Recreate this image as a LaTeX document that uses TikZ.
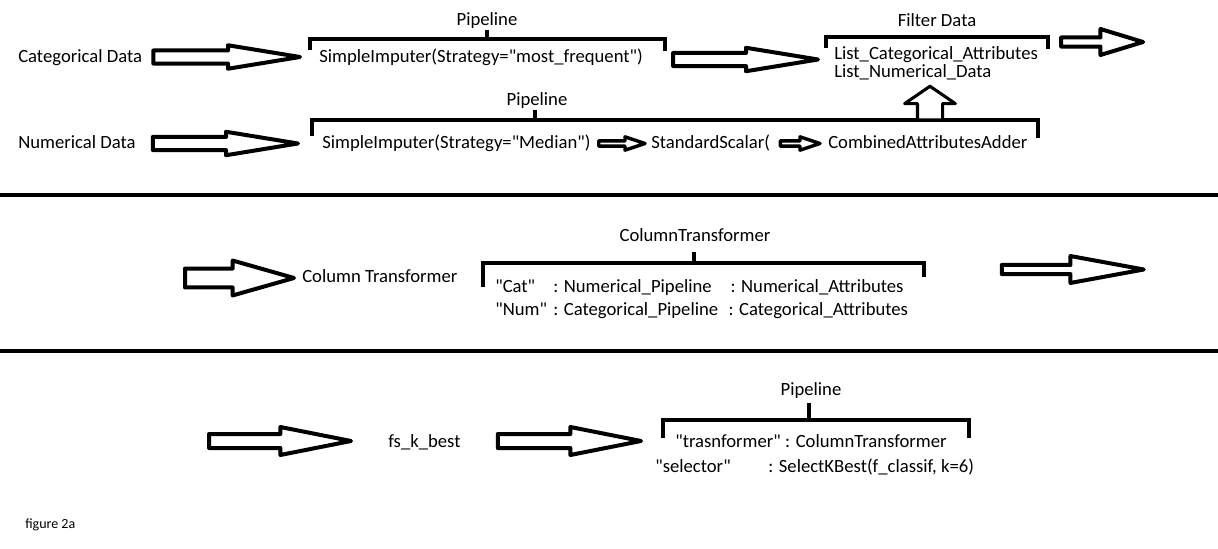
\documentclass[tikz,border=0pt]{standalone}
\usepackage{fontspec}
\setmainfont{Carlito}[Ligatures=TeXOff]
\usetikzlibrary{calc}

% hollow block arrow: shaft half width, head half width, head length
\tikzset{
	barrow/.style n args={3}{draw, fill=white, line join=round,
		to path={($(\tikztostart)!#1!90:(\tikztotarget)$)
			-- ($(\tikztotarget)!#3!(\tikztostart)!#1!90:(\tikztotarget)$)
			-- ($(\tikztotarget)!#3!(\tikztostart)!#2!90:(\tikztotarget)$)
			-- (\tikztotarget)
			-- ($(\tikztotarget)!#3!(\tikztostart)!#2!-90:(\tikztotarget)$)
			-- ($(\tikztotarget)!#3!(\tikztostart)!#1!-90:(\tikztotarget)$)
			-- ($(\tikztostart)!#1!-90:(\tikztotarget)$)
			-- cycle}},
}

\begin{document}
\begin{tikzpicture}
[
	x=0.75pt,
	y=-0.75pt,
	lbl/.style={inner sep=0pt, text height=11pt, text depth=2.5pt, font=\fontsize{14}{16}\selectfont},
	txt/.style={lbl, anchor=west},
	brk/.style={line width=3.4pt},
	tick/.style={line width=2.4pt},
	sep/.style={line width=3.4pt},
	bigarrow/.style={barrow={4.9pt}{8.8pt}{54pt}, line width=3pt},
	lowarrow/.style={barrow={5.25pt}{10.5pt}{53pt}, line width=3pt},
	widearrow/.style={barrow={7.1pt}{13.1pt}{46pt}, line width=3pt},
	slimarrow/.style={barrow={3.4pt}{10.1pt}{55pt}, line width=3pt},
	outarrow/.style={barrow={3.4pt}{9.75pt}{32pt}, line width=3pt},
	smallarrow/.style={barrow={2pt}{5pt}{15pt}, line width=2.6pt},
	uparrow/.style={barrow={9.4pt}{19pt}{13pt}, line width=2.3pt}
]
	\useasboundingbox (0,0) rectangle (1218,549);

	% categorical data
	\node[txt] (catdata) at (18,57) {Categorical Data};
	\node[txt] (catimp) at (319,57) {SimpleImputer(Strategy="most\_frequent")};
	\node[lbl] (catpipe) at (487,20) {Pipeline};
	\node[txt] (catlist) at (834,54) {List\_Categorical\_Attributes};
	\node[txt] (numlist) at (834,72) {List\_Numerical\_Data};
	\node[lbl] (filter) at (937,21) {Filter Data};

	% numerical data
	\node[txt] (numdata) at (18,143) {Numerical Data};
	\node[txt] (numimp) at (322,143) {SimpleImputer(Strategy="Median")};
	\node[txt] (scaler) at (651,143) {StandardScalar(};
	\node[txt] (adder) at (828,143) {CombinedAttributesAdder};
	\node[lbl] (numpipe) at (537,100) {Pipeline};

	% brackets
	\draw[brk] (310,50) |- (665,39) -- (665,51);
	\draw[tick] (487,39) -- (487,30);
	\draw[brk] (826,48) |- (1048,37) -- (1048,49);
	\draw[brk] (312,136) |- (1038,120) -- (1038,138);
	\draw[tick] (535,120) -- (535,110);

	% arrows
	\coordinate (catin) at ($(catdata.east)+(11,0)$);
	\coordinate (catimpin) at ($(catimp.west)+(-19,0)$);
	\coordinate (catimpout) at ($(catimp.east)+(30,2.5)$);
	\coordinate (listin) at ($(catlist.west)+(-16,5.5)$);
	\coordinate (listout) at ($(catlist.east)+(23,-12)$);
	\coordinate (topend) at ($(catlist.east)+(105,-12)$);
	\coordinate (numin) at ($(numdata.east)+(17,0.5)$);
	\coordinate (numimpin) at ($(numimp.west)+(-24,0.5)$);
	\coordinate (numimpout) at ($(numimp.east)+(8,0.5)$);
	\coordinate (scalerin) at ($(scaler.west)+(-6,0.5)$);
	\coordinate (scalerout) at ($(scaler.east)+(10,0.5)$);
	\coordinate (adderin) at ($(adder.west)+(-8,0.5)$);
	\coordinate (upfoot) at (930,120);
	\coordinate (uptip) at ($(numlist.south -| upfoot)+(0,5)$);

	\draw[bigarrow] (catin) to (catimpin);
	\draw[bigarrow] (catimpout) to (listin);
	\draw[outarrow] (listout) to (topend);
	\draw[bigarrow] (numin) to (numimpin);
	\draw[smallarrow] (numimpout) to (scalerin);
	\draw[smallarrow] (scalerout) to (adderin);
	\draw[uparrow] (upfoot) to (uptip);

	\draw[sep] (0,195) -- (1218,195);

	% column transformer
	\node[txt] (coltr) at (302,277) {Column Transformer};
	\node[lbl] (ctlabel) at (695,236) {ColumnTransformer};
	\node[txt] (catrow) at (495,287) {\makebox[43.5pt][l]{"Cat"}: \makebox[125pt][l]{Numerical\_Pipeline}: Numerical\_Attributes};
	\node[txt] (numrow) at (495,310) {\makebox[43.5pt][l]{"Num"}: \makebox[123.5pt][l]{Categorical\_Pipeline}: Categorical\_Attributes};
	\draw[brk] (483,287) |- (924,263) -- (924,277);
	\draw[tick] (694,263) -- (694,252);

	\coordinate (ctin) at ($(coltr.west)+(-117,1)$);
	\coordinate (ctinend) at ($(coltr.west)+(-8,1)$);
	\coordinate (ctout) at ($(catrow.east)+(98,-17.5)$);
	\coordinate (ctend) at ($(catrow.east)+(240,-17.5)$);
	\draw[widearrow] (ctin) to (ctinend);
	\draw[slimarrow] (ctout) to (ctend);

	\draw[sep] (0,351) -- (1218,351);

	% feature selection
	\node[txt] (fskb) at (388,442) {fs\_k\_best};
	\node[lbl] (kpipe) at (811,390) {Pipeline};
	\node[txt] (trrow) at (675,442) {"trasnformer" : ColumnTransformer};
	\node[txt] (selrow) at (655,467) {\makebox[84.75pt][l]{"selector"}: SelectKBest(f\_classif, k=6)};
	\draw[brk] (663,438) |- (969,420) -- (969,438);
	\draw[tick] (809,420) -- (809,403);

	\coordinate (fsin) at ($(fskb.west)+(-179,-1)$);
	\coordinate (fsinend) at ($(fskb.west)+(-37,-1)$);
	\coordinate (fsout) at ($(fskb.east)+(37,-1)$);
	\coordinate (trin) at ($(trrow.west)+(-34,-1)$);
	\draw[lowarrow] (fsin) to (fsinend);
	\draw[lowarrow] (fsout) to (trin);

	\node[txt, font=\fontsize{10.5}{12}\selectfont] (caption) at (25,523) {figure 2a};

\end{tikzpicture}
\end{document}
